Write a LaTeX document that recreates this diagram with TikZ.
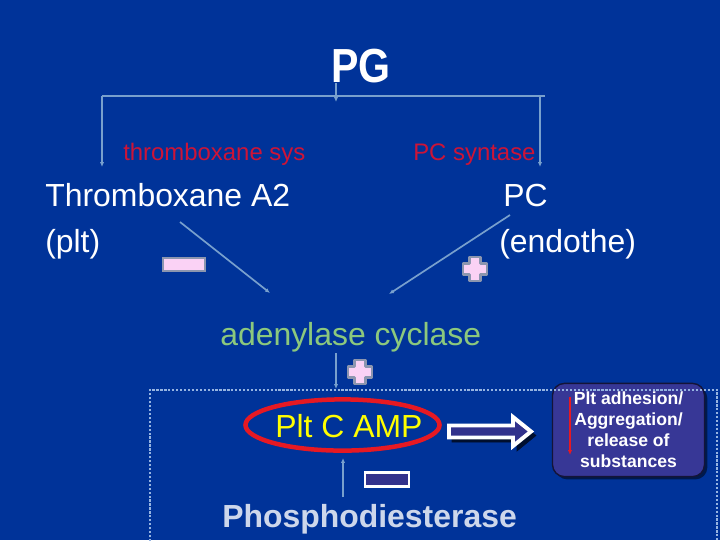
\documentclass[tikz,border=0pt]{standalone}
\usepackage{fontspec}
\setmainfont{Liberation Sans}
\usepackage{tikz}
\usetikzlibrary{arrows.meta,shapes.geometric,shadows,positioning}

\definecolor{slidebg}{RGB}{0,51,153}
\definecolor{linkblue}{RGB}{120,160,205}
\definecolor{synred}{RGB}{205,20,55}
\definecolor{adcgreen}{RGB}{140,200,125}
\definecolor{softpink}{RGB}{250,210,245}
\definecolor{rimgrey}{RGB}{140,150,175}
\definecolor{deepnavy}{RGB}{50,50,140}
\definecolor{ringred}{RGB}{230,25,35}
\definecolor{campyellow}{RGB}{255,255,0}
\definecolor{pdegrey}{RGB}{205,215,235}
\definecolor{framedot}{RGB}{150,180,225}
\definecolor{boxfill}{RGB}{55,55,150}

\begin{document}
\begin{tikzpicture}[
  x=0.025cm, y=-0.025cm,
  bigtxt/.style={inner sep=0pt, anchor=base west, text=white, font=\fontsize{22.7}{27}\selectfont},
  smalltxt/.style={inner sep=0pt, anchor=base west, text=synred, font=\fontsize{17}{20}\selectfont},
  pathway/.style={line width=1.2pt, draw=linkblue, -{Latex[length=3.5pt,width=3pt]}},
  plainline/.style={line width=1.2pt, draw=linkblue},
  minusbox/.style={draw=rimgrey, fill=softpink, line width=1.6pt, minimum width=1.05cm, minimum height=0.34cm, inner sep=0pt},
  navyminus/.style={draw=white, fill=deepnavy, line width=2pt, minimum width=1.1cm, minimum height=0.34cm, inner sep=0pt},
  ring/.style={ellipse, draw=ringred, line width=3.2pt, minimum width=4.85cm, minimum height=1.28cm, inner sep=0pt},
  hollowarrow/.style={draw=white, fill=deepnavy, line width=2.8pt, line join=miter},
  effectbox/.style={draw=black!60!deepnavy, fill=boxfill, line width=1pt, rounded corners=0.3cm,
    minimum width=3.8cm, minimum height=2.33cm, align=center, text=white,
    font=\fontsize{12.5}{15}\selectfont\bfseries,
    drop shadow={shadow xshift=2pt, shadow yshift=-2pt, fill=black, opacity=0.5}},
  dotframe/.style={draw=framedot, line width=1.8pt, dash pattern=on 1.6pt off 1.2pt},
  plusmark/.pic={
    \draw[fill=softpink, draw=rimgrey, line width=1.8pt, line join=round]
      (-5.5,-12) -- (5.5,-12) -- (5.5,-5.5) -- (12,-5.5) -- (12,5.5) -- (5.5,5.5)
      -- (5.5,12) -- (-5.5,12) -- (-5.5,5.5) -- (-12,5.5) -- (-12,-5.5) -- (-5.5,-5.5) -- cycle;
  },
]

\useasboundingbox (0,0) rectangle (720,540);
\fill[slidebg] (0,0) rectangle (720,540);

% --- PG and its two branches ---
\node[inner sep=0pt, anchor=base, text=white, font=\fontsize{34}{40}\selectfont\bfseries] (pg) at (361,82) {\scalebox{0.86}[1]{PG}};
\coordinate (pgfoot) at (336,83);
\coordinate (pgtip) at (336,102);
\coordinate (brL) at (102,96);
\coordinate (brR) at (540,96);
\coordinate (brEnd) at (545,96);
\coordinate (txtip) at (102,167);
\coordinate (pctip) at (540,167);
\draw[plainline] (brL) -- (brEnd);
\draw[pathway] (pgfoot) -- (pgtip);
\draw[pathway] (brL) -- (txtip);
\draw[pathway] (brR) -- (pctip);

\node[smalltxt] (tsys) at (123,160) {thromboxane sys};
\node[smalltxt] (pcsyn) at (413,160) {PC syntase};

% --- thromboxane (left) and prostacyclin (right) ---
\node[bigtxt] (txa) at (45,206) {Thromboxane A2};
\node[bigtxt] (plt) at (45,252) {(plt)};
\node[bigtxt] (pc) at (503,206) {PC};
\node[bigtxt] (endo) at (499,252) {(endothe)};

\coordinate (txfrom) at (180,222);
\coordinate (txto) at (270,293);
\coordinate (pcfrom) at (510,215);
\coordinate (pcto) at (389,294);
\draw[pathway] (txfrom) -- (txto);
\draw[pathway] (pcfrom) -- (pcto);
\node[minusbox] (txminus) at (184,264.5) {};
\pic at (475,269) {plusmark};

% --- adenylase cyclase ---
\node[bigtxt, text=adcgreen] (adc) at (220,345) {adenylase cyclase};
\coordinate (adcfoot) at (336,353);
\coordinate (frametop) at (336,389);
\draw[pathway] (adcfoot) -- (frametop);
\pic at (360,372) {plusmark};

% --- cAMP and its effect ---
\node[ring] (campring) at (342.5,425) {};
\node[bigtxt, text=campyellow] (camp) at (275,437) {Plt C AMP};

\draw[fill=black!70!slidebg, draw=black!70!slidebg] (452,429) -- (517,429) -- (517,420) -- (536,435.5) -- (517,451) -- (517,442) -- (452,442) -- cycle;
\draw[hollowarrow] (449,425.5) -- (513,425.5) -- (513,417) -- (531,431.5) -- (513,446) -- (513,437.5) -- (449,437.5) -- cycle;

\node[effectbox] (effect) at (628.5,430) {Plt adhesion/\\Aggregation/\\release of\\substances};
\coordinate (effTop) at (570,397);
\coordinate (effBot) at (570,455);
\draw[line width=1.2pt, draw=ringred, -{Latex[length=3.5pt,width=3pt]}] (effTop) -- (effBot);

% --- phosphodiesterase ---
\node[bigtxt, text=pdegrey, font=\fontsize{22.7}{27}\selectfont\bfseries] (pde) at (222,527) {Phosphodiesterase};
\coordinate (pdefoot) at (343,497);
\coordinate (pdetip) at (343,458);
\draw[pathway] (pdefoot) -- (pdetip);
\node[navyminus] (pdeminus) at (387,479.5) {};

% dotted frame round the lower part
\draw[dotframe] (150,545) -- (150,390) -- (717,390) -- (717,545);

\end{tikzpicture}
\end{document}
